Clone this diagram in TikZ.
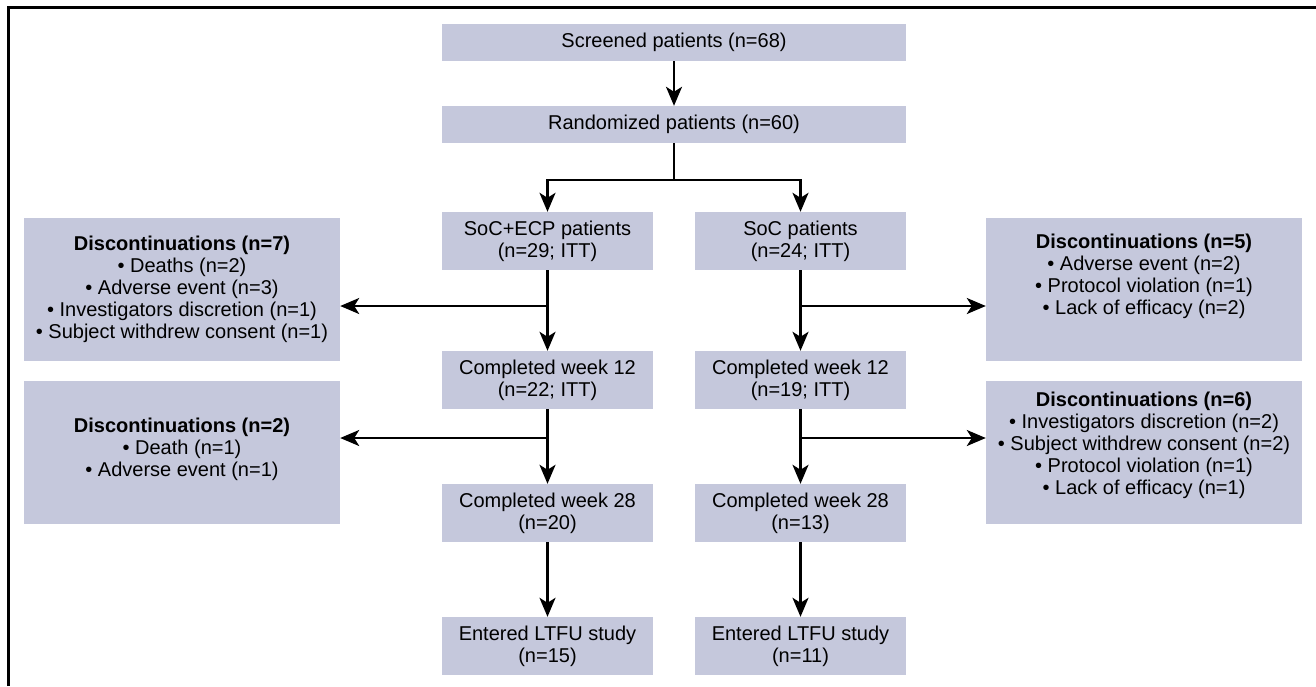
\documentclass[tikz,border=0pt]{standalone}
\usepackage{fontspec}
\setmainfont{Liberation Sans}
\usetikzlibrary{arrows.meta,calc}
\definecolor{boxfill}{RGB}{197,200,220}
\begin{document}
\begin{tikzpicture}[x=1pt,y=-1pt,
  every node/.style={font=\fontsize{20}{22}\selectfont, inner sep=0pt, align=center},
  box/.style={fill=boxfill, minimum width=211pt, minimum height=58pt},
  widebox/.style={fill=boxfill, minimum width=464pt, minimum height=37pt},
  discbox/.style={fill=boxfill, minimum width=316pt, minimum height=143pt},
  conn/.style={line width=2.4pt, draw=black},
  arr/.style={conn, -{Stealth[length=19pt,width=16pt,inset=5pt]}}
]
\useasboundingbox (0,0) rectangle (1316,686);
\draw[line width=3pt] (8,686) -- (8,7.5) -- (1316,7.5);

\node[widebox] (scr) at (674,42.5) {Screened patients (n=68)};
\node[widebox] (ran) at (674,124.5) {Randomized patients (n=60)};

\node[box] (ecp) at (547.5,241) {SoC+ECP patients\\(n=29; ITT)};
\node[box] (soc) at (800.5,241) {SoC patients\\(n=24; ITT)};
\node[box] (ecp12) at (547.5,380) {Completed week 12\\(n=22; ITT)};
\node[box] (soc12) at (800.5,380) {Completed week 12\\(n=19; ITT)};
\node[box] (ecp28) at (547.5,513) {Completed week 28\\(n=20)};
\node[box] (soc28) at (800.5,513) {Completed week 28\\(n=13)};
\node[box] (ecpL) at (547.5,646) {Entered LTFU study\\(n=15)};
\node[box] (socL) at (800.5,646) {Entered LTFU study\\(n=11)};

\node[discbox] (dl1) at (182,289.5) {};
\node[discbox] (dl2) at (182,452.5) {};
\node[discbox] (dr1) at (1144,289.5) {};
\node[discbox] (dr2) at (1144,452.5) {};

\node (tl1) at (182,289) {\textbf{Discontinuations (n=7)}\\\textbullet\ Deaths (n=2)\\\textbullet\ Adverse event (n=3)\\\textbullet\ Investigators discretion (n=1)\\\textbullet\ Subject withdrew consent (n=1)};
\node (tl2) at (182,449) {\textbf{Discontinuations (n=2)}\\\textbullet\ Death (n=1)\\\textbullet\ Adverse event (n=1)};
\node (tr1) at (1144,276) {\textbf{Discontinuations (n=5)}\\\textbullet\ Adverse event (n=2)\\\textbullet\ Protocol violation (n=1)\\\textbullet\ Lack of efficacy (n=2)};
\node (tr2) at (1144,445) {\textbf{Discontinuations (n=6)}\\\textbullet\ Investigators discretion (n=2)\\\textbullet\ Subject withdrew consent (n=2)\\\textbullet\ Protocol violation (n=1)\\\textbullet\ Lack of efficacy (n=1)};

\coordinate (split) at (674,180);
\coordinate (bl1) at (547.5,306);
\coordinate (bl2) at (547.5,438);
\coordinate (br1) at (800.5,306);
\coordinate (br2) at (800.5,438);

\draw[arr] (scr.south) -- (ran.north);
\draw[conn] (ran.south) -- (split);
\draw[arr] (split) -| (ecp.north);
\draw[arr] (split) -| (soc.north);

\draw[arr] (ecp.south) -- (ecp12.north);
\draw[arr] (bl1) -- (bl1 -| dl1.east);
\draw[arr] (ecp12.south) -- (ecp28.north);
\draw[arr] (bl2) -- (bl2 -| dl2.east);
\draw[arr] (ecp28.south) -- (ecpL.north);

\draw[arr] (soc.south) -- (soc12.north);
\draw[arr] (br1) -- (br1 -| dr1.west);
\draw[arr] (soc12.south) -- (soc28.north);
\draw[arr] (br2) -- (br2 -| dr2.west);
\draw[arr] (soc28.south) -- (socL.north);
\end{tikzpicture}
\end{document}
